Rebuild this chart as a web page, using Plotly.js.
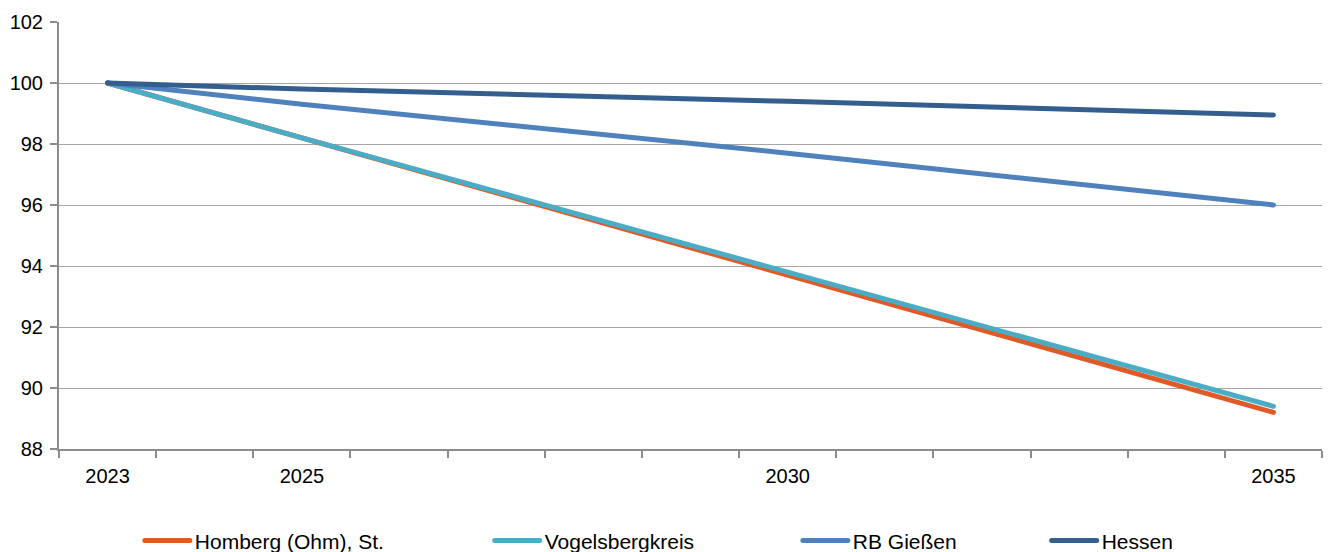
<!DOCTYPE html>
<html>
<head>
<meta charset="utf-8">
<script src="https://cdn.plot.ly/plotly-3.0.1.min.js"></script>
<style>
html,body{margin:0;padding:0;background:#fff;}
#chart{width:1333px;height:552px;}
.js-line, .legendlines path { stroke-linecap: round; }
</style>
</head>
<body>
<div id="chart"></div>
<script>
const years = [2023, 2025, 2030, 2035];
const yearLabels = ['2023', '2025', '2030', '2035'];
const homberg = [100, 98.2, 93.7, 89.2];
const vogelsberg = [100, 98.2, 93.8, 89.4];
const rbGiessen = [100, 99.3, 97.7, 96.0];
const hessen = [100, 99.8, 99.4, 98.95];
const seriesNames = ['Homberg (Ohm), St.', 'Vogelsbergkreis', 'RB Gießen', 'Hessen'];
const yTicks = [88, 90, 92, 94, 96, 98, 100, 102];

const FONT = '"Liberation Sans Narrow", "Arial Narrow", "Liberation Sans", Arial, sans-serif';
const colors = ['#DE5A26', '#4BACC6', '#4F81BD', '#335E8E'];
const seriesData = [homberg, vogelsberg, rbGiessen, hessen];
const legendIds = ['legend', 'legend2', 'legend3', 'legend4'];
const legendX = [0.064, 0.341, 0.585, 0.782];

const traces = seriesData.map((d, i) => ({
  type: 'scatter', mode: 'lines',
  x: years, y: d, name: seriesNames[i],
  legend: legendIds[i],
  line: {color: colors[i], width: 5},
  hoverinfo: 'skip'
}));

const layout = {
  width: 1333, height: 552,
  margin: {l: 59, r: 11, t: 22, b: 103, autoexpand: false},
  paper_bgcolor: '#fff', plot_bgcolor: '#fff',
  font: {family: FONT, size: 20, color: '#000'},
  showlegend: true,
  xaxis: {
    range: [2022.5, 2035.5],
    tickvals: years, ticktext: yearLabels,
    ticks: '', showgrid: false, zeroline: false,
    showline: true, linecolor: '#8C8C8C', linewidth: 2,
    tickfont: {family: FONT, size: 20, color: '#000'},
    ticklabelstandoff: 8,
    minor: {tick0: 2022.5, dtick: 1, ticks: 'outside', ticklen: 7, tickcolor: '#8C8C8C', tickwidth: 2, showgrid: false}
  },
  yaxis: {
    range: [88, 102], tickvals: yTicks,
    ticks: 'outside', ticklen: 7, tickcolor: '#8C8C8C', tickwidth: 2,
    ticklabelstandoff: 3,
    showgrid: true, gridcolor: '#A6A6A6', gridwidth: 1,
    zeroline: false, showline: true, linecolor: '#8C8C8C', linewidth: 2,
    tickfont: {family: FONT, size: 20, color: '#000'}
  }
};
legendIds.forEach((id, i) => {
  layout[id] = {
    x: legendX[i], y: -0.215, xanchor: 'left', yanchor: 'middle',
    orientation: 'h', bgcolor: 'rgba(0,0,0,0)',
    font: {family: FONT, size: 21, color: '#000'},
    itemwidth: 45
  };
});

Plotly.newPlot('chart', traces, layout, {displayModeBar: false, staticPlot: true});
</script>
</body>
</html>
